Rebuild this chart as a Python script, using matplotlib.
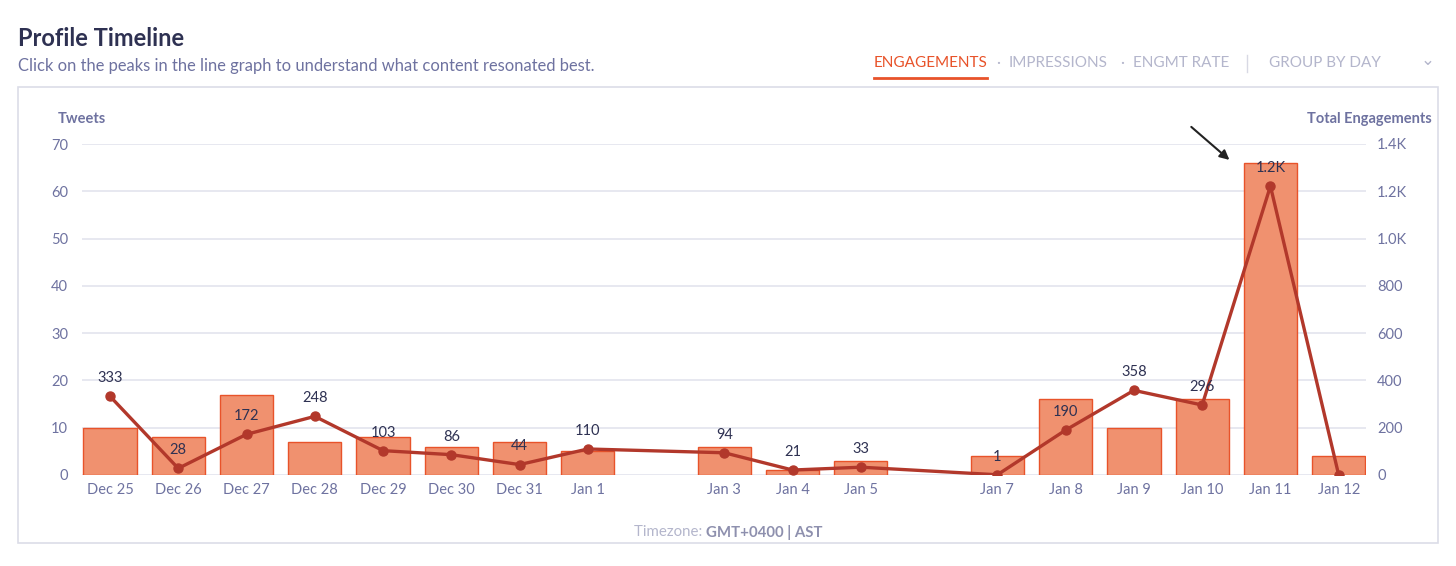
import matplotlib.pyplot as plt
import numpy as np
import pandas as pd

dates = ['2023-12-25', '2023-12-26', '2023-12-27', '2023-12-28', '2023-12-29', '2023-12-30',
         '2023-12-31', '2024-01-01', '2024-01-03', '2024-01-04', '2024-01-05', '2024-01-07',
         '2024-01-08', '2024-01-09', '2024-01-10', '2024-01-11', '2024-01-12']
tick_labels = ['Dec 25', 'Dec 26', 'Dec 27', 'Dec 28', 'Dec 29', 'Dec 30', 'Dec 31', 'Jan 1',
               'Jan 3', 'Jan 4', 'Jan 5', 'Jan 7', 'Jan 8', 'Jan 9', 'Jan 10', 'Jan 11', 'Jan 12']
tweets = [10, 8, 17, 7, 8, 6, 7, 5, 6, 1, 3, 4, 16, 10, 16, 66, 4]
engagements = [333, 28, 172, 248, 103, 86, 44, 110, 94, 21, 33, 1, 190, 358, 296, 1222, 0]

plt.rcParams['font.family'] = ['Lato', 'DejaVu Sans']

navy = '#2E3152'
muted = '#6E72A0'
light = '#B4B6CC'
orange = '#E8532A'
bar_fill = '#F0916F'
line_col = '#B2382B'
grid_col = '#E3E4EE'

d = pd.to_datetime(dates)
x = np.array((d - d[0]).days)

fig = plt.figure(figsize=(14.56, 5.66), dpi=100)
W, H = 1456, 566

def fx(px):
    return px / W

def fy(py):
    return 1 - py / H

# header
fig.text(fx(18), fy(38), 'Profile Timeline', fontsize=17, color=navy, fontweight='bold', va='center')
fig.text(fx(18), fy(66), 'Click on the peaks in the line graph to understand what content resonated best.',
         fontsize=11.9, color=muted, va='center')
fig.text(fx(874), fy(63), 'ENGAGEMENTS', fontsize=11, color=orange, va='center')
fig.add_artist(plt.Line2D([fx(874), fx(987)], [fy(78), fy(78)], color=orange, lw=2))
fig.text(fx(998), fy(63), '·', fontsize=11, color=light, va='center', ha='center')
fig.text(fx(1009), fy(63), 'IMPRESSIONS', fontsize=11, color=light, va='center')
fig.text(fx(1122), fy(63), '·', fontsize=11, color=light, va='center', ha='center')
fig.text(fx(1133), fy(63), 'ENGMT RATE', fontsize=11, color=light, va='center')
fig.add_artist(plt.Line2D([fx(1247), fx(1247)], [fy(55), fy(72)], color='#D8D9E4', lw=1))
fig.text(fx(1269), fy(63), 'GROUP BY DAY', fontsize=11, color=light, va='center')
fig.text(fx(1428), fy(60), '⌄', fontsize=12, color=light, va='center', ha='center',
         family=['DejaVu Sans'])

# outer box
fig.add_artist(plt.Rectangle((fx(18), fy(543)), fx(1438) - fx(18), fy(87) - fy(543),
                             fill=False, edgecolor='#DCDDE8', lw=1.2))

ax = fig.add_axes([fx(82), fy(475), fx(1366) - fx(82), fy(144) - fy(475)])
ax2 = ax.twinx()

ax.bar(x, tweets, width=0.78, color=bar_fill, edgecolor=orange, linewidth=1, zorder=2)
ax.set_xlim(-0.41, 18.4)
ax.set_ylim(0, 70)
ax.set_yticks(np.arange(0, 71, 10))
ax.set_xticks(x)
ax.set_xticklabels(tick_labels)
ax.grid(axis='y', color=grid_col, lw=1.2, zorder=0)
ax.set_axisbelow(True)

ax2.plot(x, engagements, color=line_col, lw=2.4, marker='o', markersize=6.5, zorder=3)
ax2.set_ylim(0, 1400)
ax2.set_yticks(np.arange(0, 1401, 200))
ax2.set_yticklabels(['0', '200', '400', '600', '800', '1.0K', '1.2K', '1.4K'])

for xi, v in zip(x, engagements):
    if v == 0:
        continue
    lab = '%.1fK' % (v / 1000) if v >= 1000 else '%d' % v
    ax2.annotate(lab, (xi, v), xytext=(0, 8), textcoords='offset points',
                 ha='center', va='bottom', fontsize=10.5, color=navy, zorder=4)

for a in (ax, ax2):
    for s in a.spines.values():
        s.set_visible(False)
    a.tick_params(length=0, colors=muted, labelsize=10.5)
ax.tick_params(axis='y', pad=10)
ax2.tick_params(axis='y', pad=8)
ax.tick_params(axis='x', pad=6)

fig.text(fx(58), fy(119), 'Tweets', fontsize=10.5, color=muted, fontweight='bold', va='center')
fig.text(fx(1432), fy(119), 'Total Engagements', fontsize=10.5, color=muted, fontweight='bold',
         va='center', ha='right')

ax2.annotate('', xy=(16.43, 1325), xytext=(15.81, 1480), annotation_clip=False,
             arrowprops=dict(arrowstyle='-|>', color='#222222', lw=1.5, mutation_scale=14))

fig.text(fx(706), fy(532), 'Timezone: ', fontsize=10.8, color=light, va='center', ha='right')
fig.text(fx(706), fy(532), 'GMT+0400 | AST', fontsize=10.8, color='#8E90AE', va='center',
         fontweight='bold')

fig.savefig('out.png', dpi=100)
